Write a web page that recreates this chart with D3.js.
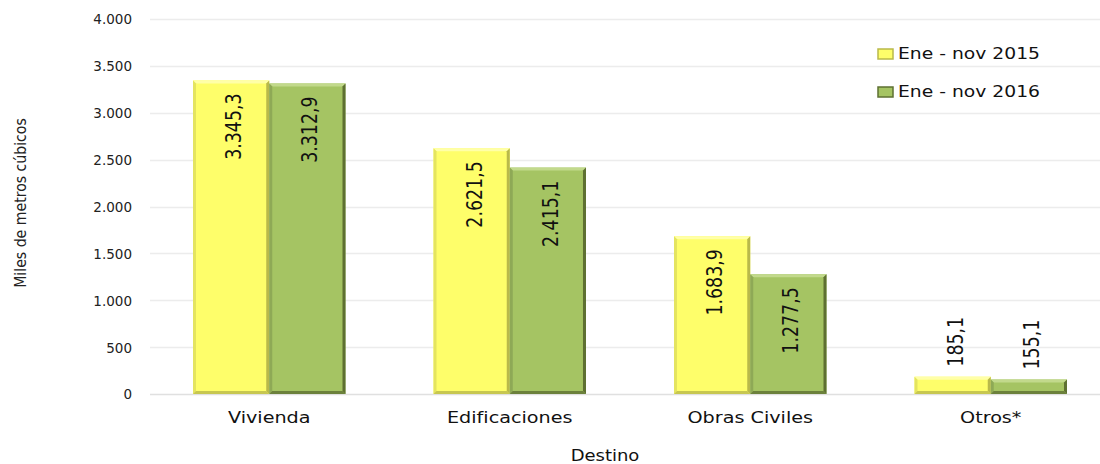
<!DOCTYPE html>
<html lang="es">
<head>
<meta charset="UTF-8">
<title>Destino</title>
<script src="https://cdn.jsdelivr.net/npm/d3@7"></script>
<style>
  body { margin: 0; background: #fff; }
  svg { display: block; }
</style>
</head>
<body>
<script>
// data
let categories = ['Vivienda', 'Edificaciones', 'Obras Civiles', 'Otros*'];
let series = ['Ene - nov 2015', 'Ene - nov 2016'];
let values2015 = [3345.3, 2621.5, 1683.9, 185.1];
let values2016 = [3312.9, 2415.1, 1277.5, 155.1];
let yTicks = [0, 500, 1000, 1500, 2000, 2500, 3000, 3500, 4000];

let width = 1100;
let height = 464;

let colors = {
  '2015': { fill: '#fefe6a', light: '#ffffa8', dark: '#b9b94a', side: '#e4e460' },
  '2016': { fill: '#a5c463', light: '#c2d98c', dark: '#5e7032', side: '#8ea956' }
};

let narrow = "'Liberation Sans Narrow', 'DejaVu Sans Condensed', 'DejaVu Sans', sans-serif";
let wide = 'DejaVu Sans, Verdana, sans-serif';

let x = d3.scaleBand()
  .domain(categories)
  .range([149, 1111])
  .paddingInner(0.366)
  .paddingOuter(0.183);

let xs = d3.scaleBand()
  .domain(['2015', '2016'])
  .range([0, x.bandwidth()]);

let y = d3.scaleLinear()
  .domain([0, 4000])
  .range([394, 19]);

let fmt = d3.formatLocale({ decimal: ',', thousands: '.', grouping: [3], currency: ['', ''] });
let tickFmt = fmt.format(',.0f');
let valFmt = fmt.format(',.1f');

let svg = d3.select('body').append('svg')
  .attr('width', width)
  .attr('height', height);

// gridlines
svg.append('g')
  .selectAll('line')
  .data(yTicks)
  .enter()
  .append('line')
  .attr('x1', 150)
  .attr('x2', width)
  .attr('y1', d => Math.round(y(d)) + 0.5)
  .attr('y2', d => Math.round(y(d)) + 0.5)
  .attr('stroke', d => d === 0 ? '#e0e0e0' : '#ececec')
  .attr('stroke-width', 1.5);

// y axis labels
let yAxis = d3.axisLeft(y)
  .tickValues(yTicks)
  .tickFormat(tickFmt)
  .tickSize(0)
  .tickPadding(0);

let yg = svg.append('g')
  .attr('transform', 'translate(132,0)')
  .call(yAxis);
yg.select('.domain').remove();
yg.selectAll('text')
  .attr('font-family', wide)
  .attr('font-size', 13.5)
  .attr('fill', '#222')
  .attr('dy', '0.36em');

// y title
svg.append('text')
  .attr('transform', 'translate(26,203) rotate(-90) scale(0.95,1)')
  .attr('text-anchor', 'middle')
  .attr('font-family', narrow)
  .attr('font-size', 16.5)
  .attr('fill', '#222')
  .text('Miles de metros cúbicos');

// bars with a bevel look
let rows = categories.map((c, i) => ({ cat: c, vals: [
  { key: '2015', v: values2015[i] },
  { key: '2016', v: values2016[i] }
] }));

let groups = svg.append('g')
  .selectAll('g')
  .data(rows)
  .enter()
  .append('g')
  .attr('transform', d => 'translate(' + x(d.cat) + ',0)');

let bars = groups.selectAll('g')
  .data(d => d.vals)
  .enter()
  .append('g');

let b = 3;
bars.each(function (d) {
  let g = d3.select(this);
  let x0 = xs(d.key);
  let x1 = x0 + xs.bandwidth();
  let y0 = y(d.v);
  let y1 = y(0);
  let c = colors[d.key];
  g.append('rect')
    .attr('x', x0).attr('y', y0)
    .attr('width', x1 - x0).attr('height', y1 - y0)
    .attr('fill', c.fill);
  // top
  g.append('polygon')
    .attr('points', [[x0, y0], [x1, y0], [x1 - b, y0 + b], [x0 + b, y0 + b]].join(' '))
    .attr('fill', c.light);
  // left
  g.append('polygon')
    .attr('points', [[x0, y0], [x0 + b, y0 + b], [x0 + b, y1 - b], [x0, y1]].join(' '))
    .attr('fill', c.side);
  // right
  g.append('polygon')
    .attr('points', [[x1, y0], [x1, y1], [x1 - b, y1 - b], [x1 - b, y0 + b]].join(' '))
    .attr('fill', c.dark);
  // bottom
  g.append('polygon')
    .attr('points', [[x0, y1], [x1, y1], [x1 - b, y1 - b], [x0 + b, y1 - b]].join(' '))
    .attr('fill', c.dark)
    .attr('opacity', 0.8);
});

// value labels, rotated; inside the bar when tall enough, above it otherwise
bars.append('text')
  .attr('transform', d => {
    let cx = xs(d.key) + xs.bandwidth() / 2 + 10;
    let h = y(0) - y(d.v);
    let ty = h > 90 ? y(d.v) + 13 : y(d.v) - 10;
    return 'translate(' + cx + ',' + ty + ') rotate(-90) scale(0.88,1)';
  })
  .attr('text-anchor', d => (y(0) - y(d.v)) > 90 ? 'end' : 'start')
  .attr('font-family', narrow)
  .attr('font-size', 22)
  .attr('fill', '#111')
  .text(d => valFmt(d.v));

// category labels
svg.append('g')
  .selectAll('text')
  .data(categories)
  .enter()
  .append('text')
  .attr('transform', d => 'translate(' + (x(d) + x.bandwidth() / 2) + ',423) scale(1.2,1)')
  .attr('text-anchor', 'middle')
  .attr('font-family', wide)
  .attr('font-size', 16)
  .attr('fill', '#111')
  .text(d => d);

// x title
svg.append('text')
  .attr('transform', 'translate(605,461) scale(1.2,1)')
  .attr('text-anchor', 'middle')
  .attr('font-family', wide)
  .attr('font-size', 15)
  .attr('fill', '#111')
  .text('Destino');

// legend
let legend = svg.append('g')
  .selectAll('g')
  .data(series)
  .enter()
  .append('g')
  .attr('transform', (d, i) => 'translate(878,' + (i === 0 ? 54 : 92) + ')');

legend.append('rect')
  .attr('x', 0).attr('y', -5)
  .attr('width', 15).attr('height', 10)
  .attr('fill', (d, i) => i === 0 ? colors['2015'].fill : colors['2016'].fill)
  .attr('stroke', (d, i) => i === 0 ? colors['2015'].dark : colors['2016'].dark)
  .attr('stroke-width', 1.5);

legend.append('text')
  .attr('transform', 'translate(20,0) scale(1.25,1)')
  .attr('dy', '0.36em')
  .attr('font-family', wide)
  .attr('font-size', 15)
  .attr('fill', '#111')
  .text(d => d);
</script>
</body>
</html>
